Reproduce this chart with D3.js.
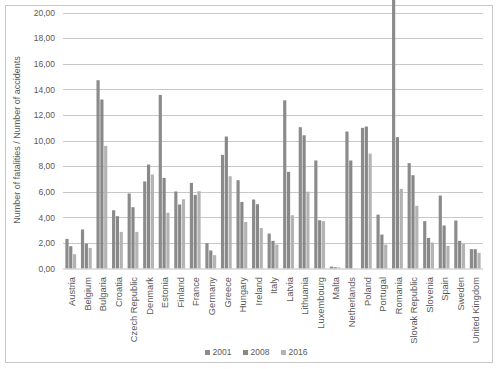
<!DOCTYPE html>
<html><head><meta charset="utf-8">
<script src="https://cdn.jsdelivr.net/npm/d3@7"></script>
<style>
html,body{margin:0;padding:0;background:#fff;}
text{font-family:"Liberation Sans",Arial,sans-serif;fill:#595959;}
</style></head>
<body><svg id="c" width="498" height="369"></svg>
<script>
const categories = ["Austria","Belgium","Bulgaria","Croatia","Czech Republic","Denmark","Estonia","Finland","France","Germany","Greece","Hungary","Ireland","Italy","Latvia","Lithuania","Luxembourg","Malta","Netherlands","Poland","Portugal","Romania","Slovak Republic","Slovenia","Spain","Sweden","United Kingdom"];
const seriesNames = ["2001","2008","2016"];
const v2001 = [2.31,3.05,14.71,4.55,5.86,6.80,13.56,6.02,6.69,1.98,8.88,6.90,5.39,2.73,13.14,11.04,8.44,0.15,10.70,10.99,4.21,22.0,8.23,3.70,5.70,3.75,1.51];
const v2008 = [1.74,1.95,13.20,4.09,4.79,8.12,7.08,5.00,5.75,1.41,10.31,5.20,5.02,2.16,7.55,10.41,3.77,0.10,8.44,11.09,2.65,10.26,7.29,2.39,3.36,2.16,1.51];
const v2016 = [1.12,1.61,9.58,2.86,2.86,7.34,4.35,5.41,6.04,1.04,7.21,3.64,3.17,1.87,4.16,6.00,3.70,0.08,null,8.98,1.87,6.22,4.90,2.03,1.77,1.92,1.23];
const yTicks = [0,2,4,6,8,10,12,14,16,18,20];
const colors = {"2001":"#8b8b8b","2008":"#888888","2016":"#b3b3b3"};

const values = {"2001":v2001,"2008":v2008,"2016":v2016};
const svg = d3.select("#c");
const L=63, R=483, T=12.5, B=268.5;

svg.append("rect").attr("x",5.5).attr("y",5.5).attr("width",487).attr("height",357)
  .attr("fill","none").attr("stroke","#c6c6c6").attr("stroke-width",1);

const y = d3.scaleLinear().domain([0,20]).range([B,T]);
const x = d3.scaleBand().domain(categories).range([L,R]).padding(0);
const x1 = d3.scaleBand().domain(seriesNames).range([-5.4,5.4]).paddingInner(0.17);

// gridlines
svg.append("g").selectAll("line").data(yTicks.filter(t=>t>0)).join("line")
  .attr("x1",L).attr("x2",R).attr("y1",d=>Math.round(y(d))+0.5).attr("y2",d=>Math.round(y(d))+0.5)
  .attr("stroke","#c8c8c8").attr("stroke-width",1);

// y axis labels
const yAxis = d3.axisLeft(y).tickValues(yTicks).tickSize(0).tickPadding(8)
  .tickFormat(d=>d3.format(".2f")(d).replace(".",","));
const ga = svg.append("g").attr("transform",`translate(${L},0)`).call(yAxis);
ga.select(".domain").remove();
ga.selectAll("text").attr("font-size","8.5px").attr("fill","#595959").style("font-family","Liberation Sans, Arial, sans-serif");

// bars
const groups = svg.append("g").selectAll("g").data(seriesNames).join("g").attr("fill",s=>colors[s]);
groups.selectAll("rect").data(s=>categories.map((c,i)=>({c,s,v:values[s][i]})).filter(d=>d.v!=null)).join("rect")
  .attr("x",d=>x(d.c)+x.bandwidth()/2+x1(d.s))
  .attr("width",x1.bandwidth())
  .attr("y",d=>y(d.v))
  .attr("height",d=>B-y(d.v));

// x axis line
svg.append("line").attr("x1",L).attr("x2",R).attr("y1",B+0.5).attr("y2",B+0.5).attr("stroke","#bfbfbf");

// x axis labels
const xAxis = d3.axisBottom(x).tickSize(0).tickPadding(0);
const gx = svg.append("g").attr("transform",`translate(0,${B})`).call(xAxis);
gx.select(".domain").remove();
gx.selectAll("text").attr("font-size","9.3px").attr("fill","#595959")
  .style("font-family","Liberation Sans, Arial, sans-serif")
  .attr("text-anchor","end").attr("dy","0.35em").attr("y",0)
  .attr("transform","translate(1,8.5) rotate(-90)");

// y title
svg.append("text").attr("transform","translate(20,140) rotate(-90)")
  .attr("text-anchor","middle").attr("font-size","9px").attr("fill","#404040")
  .text("Number of fatalities / Number of accidents");

// legend
const leg = svg.append("g").selectAll("g").data(seriesNames).join("g")
  .attr("transform",(d,i)=>`translate(${205+i*38},350)`);
leg.append("rect").attr("width",5).attr("height",5).attr("fill",d=>colors[d]);
leg.append("text").attr("x",7.5).attr("y",5).attr("font-size","8.5px").attr("fill","#595959").text(d=>d);
</script></body></html>
